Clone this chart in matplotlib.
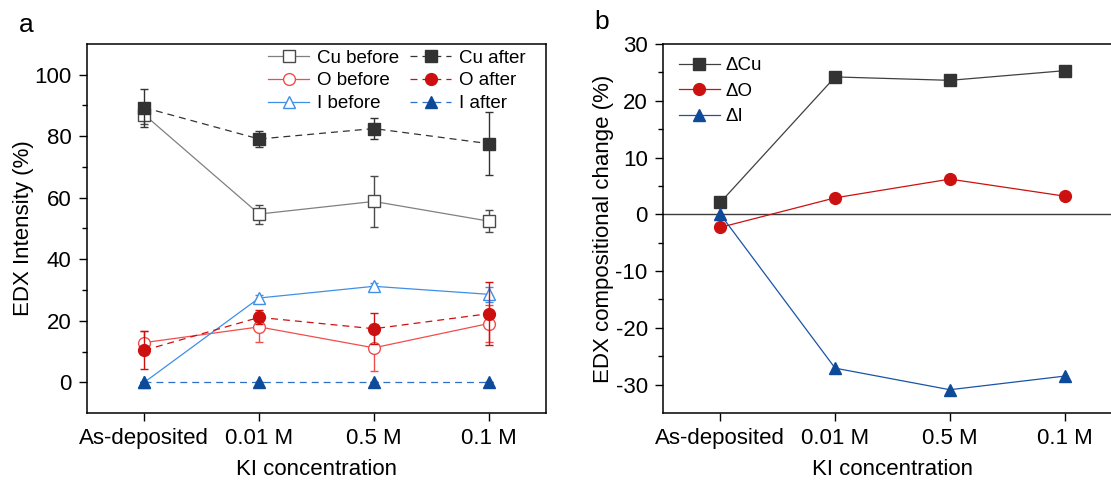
import matplotlib
matplotlib.use("Agg")
import matplotlib.pyplot as plt
import numpy as np

plt.rcParams['font.family'] = ['Liberation Sans', 'DejaVu Sans']
plt.rcParams['lines.scale_dashes'] = False
plt.rcParams['axes.unicode_minus'] = False

# data
categories = ['As-deposited', '0.01 M', '0.5 M', '0.1 M']

cu_before = [87.0, 54.7, 58.8, 52.4]
cu_before_err = [3.0, 3.1, 8.4, 3.5]
cu_after = [89.3, 79.1, 82.5, 77.6]
cu_after_err = [6.2, 2.5, 3.3, 10.3]
o_before = [12.9, 18.0, 11.2, 19.1]
o_before_err = [3.8, 4.8, 7.6, 6.0]
o_after = [10.4, 21.1, 17.4, 22.3]
o_after_err = [6.2, 2.3, 5.0, 10.3]
i_before = [0.0, 27.4, 31.2, 28.6]
i_before_err = [0.0, 1.0, 1.0, 2.5]
i_after = [0.0, 0.0, 0.0, 0.0]
i_after_err = [0.0, 0.0, 0.0, 0.0]

d_cu = [2.1, 24.2, 23.6, 25.3]
d_o = [-2.3, 2.9, 6.2, 3.2]
d_i = [0.0, -27.1, -30.9, -28.5]

x = np.arange(len(categories))

fig = plt.figure(figsize=(11.11, 4.8), dpi=100)
ax1 = fig.add_axes([87/1111, 67/480, 459/1111, 369/480])
ax2 = fig.add_axes([663/1111, 67/480, 459/1111, 369/480])

fs = 16
lw = 0.9
dash = (5, 3.6)

def eb(ax, y, err, color, ecolor, marker, mfc, ms, dashed, z):
    c = ax.errorbar(x, y, yerr=err, color=color, ecolor=ecolor, elinewidth=1.0,
                    capsize=3, capthick=1.0, lw=lw, marker=marker, ms=ms,
                    mfc=mfc, mec=ecolor, mew=1.0, zorder=z)
    if dashed:
        c[0].set_dashes(dash)
    return c[0]

h_cub = eb(ax1, cu_before, cu_before_err, '#808080', '#4a4a4a', 's', 'white', 8, False, 3)
h_ob = eb(ax1, o_before, o_before_err, '#f24d4d', '#f24d4d', 'o', 'white', 8.5, False, 3)
h_ib = eb(ax1, i_before, i_before_err, '#3f8fe8', '#3f8fe8', '^', 'white', 9, False, 3)
h_cua = eb(ax1, cu_after, cu_after_err, '#333333', '#333333', 's', '#333333', 8, True, 4)
h_oa = eb(ax1, o_after, o_after_err, '#cc1010', '#cc1010', 'o', '#cc1010', 8.5, True, 4)
h_ia = eb(ax1, i_after, i_after_err, '#2f6fc8', '#0d4a9a', '^', '#0d4a9a', 9, True, 4)

ax1.set_xlim(-0.5, 3.5)
ax1.set_ylim(-10, 110)
ax1.set_yticks([0, 20, 40, 60, 80, 100])
ax1.set_yticks([10, 30, 50, 70, 90], minor=True)
ax1.set_ylabel('EDX Intensity (%)', fontsize=fs, labelpad=0)
ax1.legend([h_cub, h_ob, h_ib, h_cua, h_oa, h_ia],
           ['Cu before', 'O before', 'I before', 'Cu after', 'O after', 'I after'],
           ncol=2, frameon=False,
           fontsize=13.5, loc='upper left', bbox_to_anchor=(0.39, 0.99),
           borderaxespad=0, borderpad=0.1, handlelength=2.2, handletextpad=0.4,
           columnspacing=0.6, labelspacing=0.3)

ax2.axhline(0, color='#3c3c3c', lw=1.0, zorder=1)
ax2.plot(x, d_cu, color='#404040', lw=lw, marker='s', ms=8, mfc='#333333', mec='#333333', label='\u0394Cu', zorder=3)
ax2.plot(x, d_o, color='#cc1111', lw=lw, marker='o', ms=8.5, mfc='#cc1111', mec='#cc1111', label='\u0394O', zorder=3)
ax2.plot(x, d_i, color='#1a54a6', lw=lw, marker='^', ms=9, mfc='#0d4a9a', mec='#0d4a9a', label='\u0394I', zorder=3)
ax2.set_xlim(-0.5, 3.5)
ax2.set_ylim(-35, 30)
ax2.set_yticks([-30, -20, -10, 0, 10, 20, 30])
ax2.set_yticks([-25, -15, -5, 5, 15, 25], minor=True)
ax2.set_ylabel('EDX compositional change (%)', fontsize=fs, labelpad=1)
ax2.spines['right'].set_visible(False)
ax2.legend(frameon=False, fontsize=13.5, loc='upper left', bbox_to_anchor=(0.03, 0.97),
           borderaxespad=0, borderpad=0.1, handlelength=2.2, handletextpad=0.3,
           labelspacing=0.45)

for ax in (ax1, ax2):
    ax.set_xticks(x)
    ax.set_xticklabels(categories)
    ax.set_xlabel('KI concentration', fontsize=fs, labelpad=7)
    ax.tick_params(axis='both', which='major', direction='out', length=6, width=1.0,
                   labelsize=fs, pad=5)
    ax.tick_params(axis='y', which='minor', direction='out', length=3.5, width=1.0)
    for s in ax.spines.values():
        s.set_linewidth(1.1)

fig.text(26/1111, 1 - 25/480, 'a', fontsize=19, ha='center', va='center')
fig.text(602/1111, 1 - 22/480, 'b', fontsize=19, ha='center', va='center')

fig.savefig('out.png', dpi=100)
